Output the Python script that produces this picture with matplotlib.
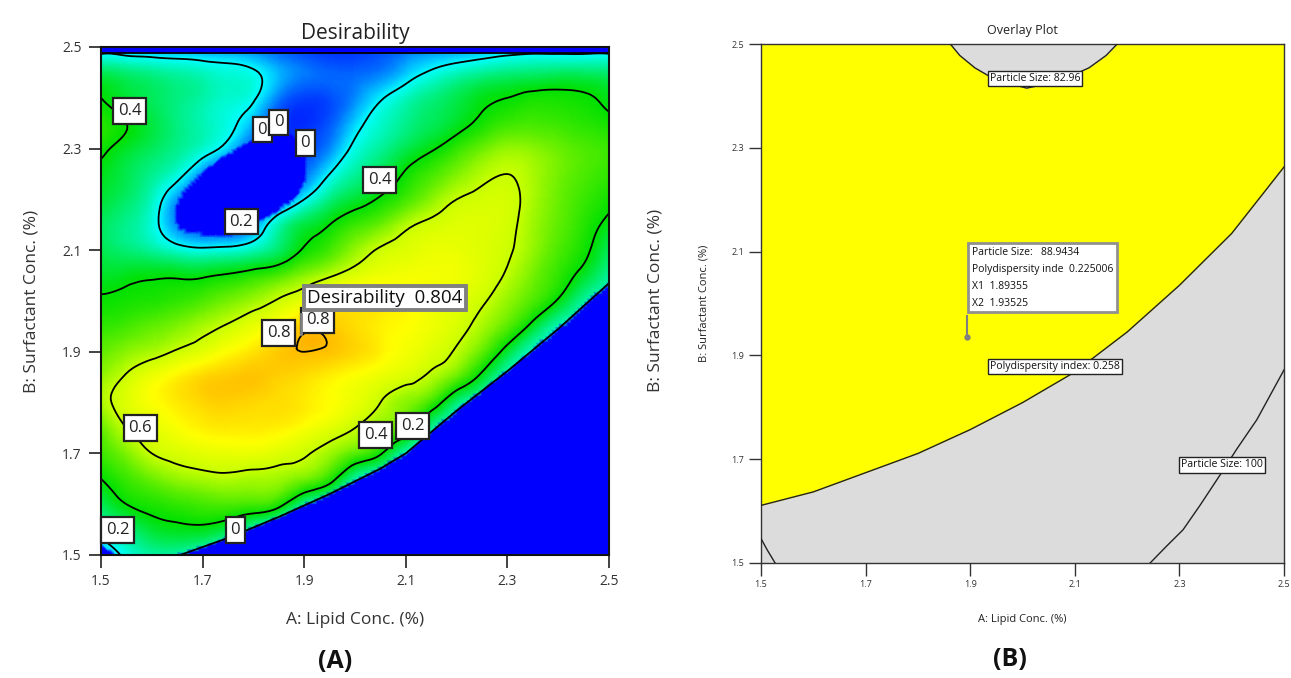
import numpy as np
import matplotlib
matplotlib.use("Agg")
import matplotlib.pyplot as plt
import matplotlib.tri as mtri
from matplotlib.path import Path
from matplotlib.colors import LinearSegmentedColormap, Normalize

plt.rcParams['font.family'] = ['Open Sans', 'DejaVu Sans']

# ---------------- Panel A: desirability surface -------------
LIPID = [1.50, 1.55, 1.60, 1.65, 1.70, 1.75, 1.80, 1.85, 1.90, 1.95, 2.00,
         2.05, 2.10, 2.15, 2.20, 2.25, 2.30, 2.35, 2.40, 2.45, 2.50]
SURFACTANT = [1.50, 1.55, 1.60, 1.65, 1.70, 1.75, 1.80, 1.85, 1.90, 1.95, 2.00,
              2.05, 2.10, 2.15, 2.20, 2.25, 2.30, 2.35, 2.40, 2.45, 2.48, 2.50]
D_150 = [0.12, 0.22, 0.27, 0.27, 0.22, 0.16, 0.12, 0.09, 0.07, 0.06, 0.05, 0.04, 0.03, 0.02, 0.02, 0.02, 0.02, 0.02, 0.02, 0.02, 0.02]
D_155 = [0.24, 0.30, 0.36, 0.38, 0.38, 0.34, 0.26, 0.20, 0.15, 0.11, 0.08, 0.06, 0.05, 0.04, 0.03, 0.03, 0.02, 0.02, 0.02, 0.02, 0.02]
D_160 = [0.33, 0.40, 0.43, 0.45, 0.47, 0.48, 0.47, 0.43, 0.29, 0.22, 0.17, 0.13, 0.09, 0.07, 0.05, 0.04, 0.03, 0.03, 0.03, 0.03, 0.03]
D_165 = [0.40, 0.46, 0.51, 0.55, 0.57, 0.58, 0.57, 0.56, 0.52, 0.44, 0.28, 0.22, 0.17, 0.12, 0.09, 0.07, 0.05, 0.04, 0.03, 0.03, 0.03]
D_170 = [0.46, 0.53, 0.60, 0.63, 0.65, 0.66, 0.66, 0.64, 0.61, 0.56, 0.49, 0.41, 0.26, 0.21, 0.16, 0.12, 0.09, 0.07, 0.05, 0.04, 0.04]
D_175 = [0.50, 0.60, 0.65, 0.69, 0.72, 0.73, 0.73, 0.72, 0.69, 0.65, 0.60, 0.54, 0.46, 0.29, 0.22, 0.17, 0.13, 0.10, 0.08, 0.06, 0.05]
D_180 = [0.57, 0.64, 0.69, 0.73, 0.76, 0.77, 0.76, 0.75, 0.73, 0.70, 0.66, 0.60, 0.54, 0.46, 0.31, 0.24, 0.19, 0.15, 0.12, 0.09, 0.07]
D_185 = [0.55, 0.61, 0.67, 0.72, 0.76, 0.78, 0.79, 0.77, 0.75, 0.72, 0.69, 0.66, 0.63, 0.58, 0.50, 0.37, 0.25, 0.21, 0.17, 0.13, 0.10]
D_190 = [0.50, 0.54, 0.57, 0.61, 0.65, 0.70, 0.74, 0.78, 0.80, 0.79, 0.76, 0.72, 0.68, 0.64, 0.59, 0.50, 0.36, 0.25, 0.21, 0.17, 0.13]
D_195 = [0.45, 0.47, 0.50, 0.53, 0.57, 0.61, 0.66, 0.71, 0.78, 0.78, 0.75, 0.72, 0.70, 0.67, 0.63, 0.57, 0.49, 0.37, 0.26, 0.22, 0.18]
D_200 = [0.41, 0.42, 0.43, 0.45, 0.48, 0.52, 0.56, 0.61, 0.66, 0.72, 0.74, 0.73, 0.71, 0.68, 0.65, 0.61, 0.55, 0.48, 0.39, 0.28, 0.23]
D_205 = [0.37, 0.38, 0.39, 0.39, 0.39, 0.41, 0.44, 0.48, 0.54, 0.59, 0.64, 0.67, 0.68, 0.68, 0.67, 0.64, 0.59, 0.52, 0.45, 0.37, 0.28]
D_210 = [0.34, 0.31, 0.28, 0.24, 0.22, 0.23, 0.26, 0.32, 0.41, 0.47, 0.55, 0.61, 0.64, 0.66, 0.66, 0.64, 0.61, 0.55, 0.48, 0.42, 0.33]
D_215 = [0.33, 0.29, 0.23, 0.12, 0.07, 0.06, 0.12, 0.26, 0.35, 0.40, 0.46, 0.51, 0.58, 0.62, 0.64, 0.64, 0.62, 0.56, 0.50, 0.44, 0.38]
D_220 = [0.36, 0.32, 0.25, 0.13, 0.06, 0.04, 0.05, 0.10, 0.20, 0.30, 0.36, 0.41, 0.47, 0.54, 0.60, 0.62, 0.62, 0.57, 0.51, 0.46, 0.42]
D_225 = [0.38, 0.34, 0.29, 0.23, 0.12, 0.05, 0.04, 0.05, 0.10, 0.20, 0.28, 0.34, 0.41, 0.47, 0.53, 0.58, 0.60, 0.57, 0.52, 0.48, 0.45]
D_230 = [0.42, 0.37, 0.33, 0.29, 0.24, 0.17, 0.08, 0.05, 0.06, 0.12, 0.22, 0.28, 0.34, 0.39, 0.45, 0.51, 0.55, 0.54, 0.51, 0.48, 0.46]
D_235 = [0.44, 0.40, 0.35, 0.30, 0.26, 0.22, 0.15, 0.06, 0.04, 0.08, 0.17, 0.24, 0.29, 0.33, 0.37, 0.42, 0.46, 0.47, 0.46, 0.44, 0.42]
D_240 = [0.40, 0.36, 0.33, 0.30, 0.27, 0.24, 0.21, 0.11, 0.06, 0.07, 0.12, 0.19, 0.25, 0.30, 0.34, 0.38, 0.40, 0.42, 0.42, 0.41, 0.38]
D_245 = [0.33, 0.31, 0.29, 0.27, 0.25, 0.23, 0.21, 0.15, 0.11, 0.09, 0.09, 0.11, 0.16, 0.21, 0.25, 0.28, 0.30, 0.31, 0.32, 0.32, 0.31]
D_248 = [0.22, 0.21, 0.20, 0.19, 0.18, 0.17, 0.15, 0.11, 0.08, 0.06, 0.06, 0.08, 0.12, 0.15, 0.17, 0.19, 0.21, 0.22, 0.22, 0.22, 0.22]
D_250 = [0.16, 0.15, 0.14, 0.13, 0.12, 0.11, 0.10, 0.08, 0.06, 0.05, 0.05, 0.06, 0.08, 0.10, 0.12, 0.14, 0.15, 0.16, 0.16, 0.16, 0.16]
DESIRABILITY = [D_150, D_155, D_160, D_165, D_170, D_175, D_180, D_185, D_190, D_195,
                D_200, D_205, D_210, D_215, D_220, D_225, D_230, D_235, D_240, D_245,
                D_248, D_250]

# regions where the desirability is 0 (a response is outside its limits)
CLIFF_A = [1.656, 1.754, 1.85, 1.95, 2.05, 2.10, 2.20, 2.30, 2.40, 2.50]
CLIFF_B = [1.500, 1.535, 1.575, 1.62, 1.67, 1.70, 1.784, 1.862, 1.945, 2.035]
BLOB_A = [1.645, 1.655, 1.70, 1.75, 1.80, 1.85, 1.89, 1.905, 1.905, 1.88, 1.84, 1.80, 1.75, 1.70, 1.665, 1.648]
BLOB_B = [2.165, 2.140, 2.13, 2.128, 2.15, 2.178, 2.21, 2.25, 2.30, 2.325, 2.33, 2.318, 2.29, 2.255, 2.22, 2.19]
CORNER_A = [1.500, 1.500, 1.515, 1.530]
CORNER_B = [1.500, 1.520, 1.510, 1.500]
TOP_ZERO_B = 2.488

CONTOUR_LEVELS = [0.2, 0.4, 0.6, 0.8]
TICKS = [1.5, 1.7, 1.9, 2.1, 2.3, 2.5]
TICK_LABELS = ["1.5", "1.7", "1.9", "2.1", "2.3", "2.5"]
OPT_A, OPT_B, OPT_D = 1.89355, 1.93525, 0.804
A_LABELS = [("0.4", 1.557, 2.374), ("0", 1.817, 2.337), ("0", 1.850, 2.352),
            ("0", 1.902, 2.311), ("0.2", 1.776, 2.156), ("0.4", 2.049, 2.238),
            ("0.8", 1.927, 1.962), ("0.8", 1.850, 1.937), ("0.6", 1.577, 1.750),
            ("0.4", 2.041, 1.736), ("0.2", 2.114, 1.754), ("0.2", 1.533, 1.549),
            ("0", 1.764, 1.549)]

# ---------------- Panel B: overlay plot boundaries -------------
PDI_A = [1.50, 1.60, 1.70, 1.80, 1.90, 2.00, 2.10, 2.20, 2.30, 2.40, 2.50]
PDI_B = [1.611, 1.637, 1.674, 1.711, 1.757, 1.809, 1.868, 1.945, 2.035, 2.135, 2.263]
PS83_A = [1.862, 1.880, 1.909, 1.950, 2.008, 2.070, 2.127, 2.160, 2.181]
PS83_B = [2.500, 2.478, 2.454, 2.430, 2.415, 2.428, 2.454, 2.478, 2.500]
PS100_A = [2.244, 2.275, 2.307, 2.340, 2.378, 2.410, 2.448, 2.500]
PS100_B = [1.500, 1.532, 1.564, 1.612, 1.670, 1.720, 1.776, 1.872]
PSC_A = [1.500, 1.512, 1.527]
PSC_B = [1.547, 1.525, 1.500]
OPT_PS, OPT_PDI = 88.9434, 0.225006
B_LABELS = [("Particle Size: 82.96", 2.024, 2.434),
            ("Polydispersity index: 0.258", 2.062, 1.878),
            ("Particle Size: 100", 2.381, 1.689)]

# ---------------- figure ----------------
W, H = 1291, 678
fig = plt.figure(figsize=(W / 100, H / 100), dpi=100)
fig.patch.set_facecolor('white')

axA = fig.add_axes([101 / W, 1 - 555 / H, 508 / W, 508 / H])
axB = fig.add_axes([761 / W, 1 - 563 / H, 523 / W, 519 / H])

cmap = LinearSegmentedColormap.from_list('de', [
    (0.00, '#0000ff'), (0.10, '#0070ff'), (0.20, '#00ffff'), (0.40, '#00e000'),
    (0.50, '#60ee00'), (0.60, '#c8ff00'), (0.70, '#ffff00'), (0.80, '#ffbe00'),
    (1.00, '#ff0000')])

AA, BB = np.meshgrid(np.array(LIPID), np.array(SURFACTANT))
ZZ = np.array(DESIRABILITY)
tri = mtri.Triangulation(AA.ravel(), BB.ravel())
refiner = mtri.UniformTriRefiner(tri)
tri_f, z_f = refiner.refine_field(ZZ.ravel(), subdiv=3)
pts = np.column_stack([tri_f.x, tri_f.y])

cliff_poly = list(zip(CLIFF_A, CLIFF_B)) + [(2.6, CLIFF_B[-1]), (2.6, 1.4), (CLIFF_A[0], 1.4)]
corner_poly = [(1.4, 1.4), (1.4, CORNER_B[1])] + list(zip(CORNER_A, CORNER_B))[1:] + [(CORNER_A[-1], 1.4)]
zero = (Path(cliff_poly).contains_points(pts)
        | Path(list(zip(BLOB_A, BLOB_B))).contains_points(pts)
        | Path(corner_poly).contains_points(pts)
        | (tri_f.y > TOP_ZERO_B))
z_disp = np.where(zero, 0.0, np.clip(z_f, 0, 1))

# contour lines only where the surface is defined (outside the zero regions)
tri_c = mtri.Triangulation(tri_f.x, tri_f.y, tri_f.triangles,
                           mask=zero[tri_f.triangles].any(axis=1))

axA.tripcolor(tri_f, z_disp, shading='gouraud', cmap=cmap, norm=Normalize(0, 1),
              rasterized=True)
axA.tricontour(tri_c, z_f, levels=CONTOUR_LEVELS, colors='black', linewidths=1.3)
axA.plot(CLIFF_A, CLIFF_B, color='black', lw=1.3)
axA.plot([1.5, 2.5], [TOP_ZERO_B, TOP_ZERO_B], color='black', lw=1.3)

for txt, a, b in A_LABELS:
    axA.text(a, b, txt, ha='center', va='center', fontsize=12, color='#222222', zorder=6,
             bbox=dict(boxstyle='square,pad=0.28', fc='white', ec='#222222', lw=1.6))

axA.plot([OPT_A, OPT_A], [OPT_B, 1.975], color='#808080', lw=2, zorder=7)
axA.text(OPT_A + 0.012, 1.988, f"Desirability  {OPT_D:.3f}", ha='left', va='bottom',
         fontsize=13.5, color='#111111', zorder=8,
         bbox=dict(boxstyle='square,pad=0.18', fc='white', ec='#808080', lw=2.8))

axA.set_xlim(1.5, 2.5)
axA.set_ylim(1.5, 2.5)
axA.set_xticks(TICKS)
axA.set_xticklabels(TICK_LABELS)
axA.set_yticks(TICKS)
axA.set_yticklabels(TICK_LABELS)
axA.tick_params(direction='out', length=9, width=1.3, labelsize=10, colors='#333333', pad=5)
for s in axA.spines.values():
    s.set_linewidth(1.5)
    s.set_color('#111111')
axA.set_title("Desirability", fontsize=15, pad=6, color='#222222')
axA.set_xlabel("A: Lipid Conc. (%)", fontsize=12.5, labelpad=16, color='#333333')
axA.set_ylabel("B: Surfactant Conc. (%)", fontsize=12.5, labelpad=16, color='#333333')

# ---------------- panel B ----------------
axB.set_facecolor('#dcdcdc')
axB.fill_between(PDI_A, PDI_B, 2.5, color='#ffff00', lw=0, zorder=1)
axB.fill_between(PS83_A, PS83_B, 2.5, color='#dcdcdc', lw=0, zorder=2)
for xs, ys in [(PDI_A, PDI_B), (PS83_A, PS83_B), (PS100_A, PS100_B), (PSC_A, PSC_B)]:
    axB.plot(xs, ys, color='#222222', lw=1.0, zorder=3)

for txt, a, b in B_LABELS:
    axB.text(a, b, txt, ha='center', va='center', fontsize=7.6, color='#111111', zorder=6,
             bbox=dict(boxstyle='square,pad=0.2', fc='white', ec='#222222', lw=1.0))

axB.plot([OPT_A, OPT_A], [OPT_B, 1.975], color='#808080', lw=1.5, zorder=7)
axB.plot([OPT_A], [OPT_B], 'o', ms=3.5, color='#808080', zorder=7)
flag = (f"Particle Size:   {OPT_PS:.4f}\nPolydispersity inde  {OPT_PDI:.6f}\n"
        f"X1  {OPT_A:.5f}\nX2  {OPT_B:.5f}")
axB.text(OPT_A + 0.01, 1.99, flag, ha='left', va='bottom', fontsize=7.5,
         linespacing=1.75, color='#111111', zorder=8,
         bbox=dict(boxstyle='square,pad=0.35', fc='white', ec='#909090', lw=2.0))

axB.set_xlim(1.5, 2.5)
axB.set_ylim(1.5, 2.5)
axB.set_xticks(TICKS)
axB.set_xticklabels(TICK_LABELS)
axB.set_yticks(TICKS)
axB.set_yticklabels(TICK_LABELS)
axB.tick_params(direction='out', length=9, width=1.0, labelsize=6.5, colors='#333333', pad=3)
for s in axB.spines.values():
    s.set_linewidth(1.0)
    s.set_color('#333333')
axB.set_title("Overlay Plot", fontsize=9, pad=7, color='#222222')
axB.set_xlabel("A: Lipid Conc. (%)", fontsize=8, labelpad=18, color='#222222')
axB.set_ylabel("B: Surfactant Conc. (%)", fontsize=8, labelpad=16, color='#222222')

# ---------------- figure-level texts ----------------
fig.text(655 / W, 1 - 300 / H, "B: Surfactant Conc. (%)", rotation=90, ha='center',
         va='center', fontsize=12.5, color='#333333')
fig.text(335 / W, 1 - 662 / H, "(A)", ha='center', va='center', fontsize=18,
         fontweight='bold', color='#111111')
fig.text(1010 / W, 1 - 660 / H, "(B)", ha='center', va='center', fontsize=18,
         fontweight='bold', color='#111111')

fig.savefig("out.png", dpi=100, facecolor='white')
